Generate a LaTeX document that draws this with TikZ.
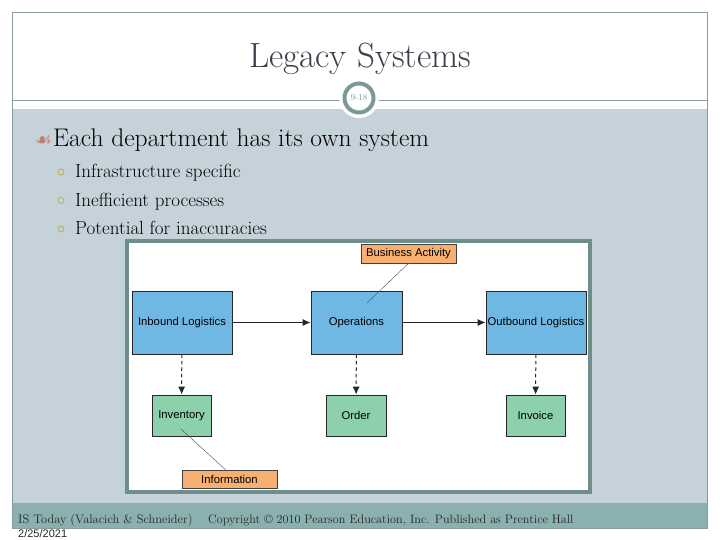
\documentclass[tikz,border=0pt]{standalone}
\usepackage{fontspec}
\usepackage{xcolor}
\usetikzlibrary{positioning, arrows.meta, calc}
\newfontfamily\diagfont{Liberation Sans}
\newfontfamily\symfont{DejaVu Sans}
\definecolor{slideframe}{HTML}{8C9C9C}
\definecolor{bodygrey}{HTML}{C6D2D9}
\definecolor{footteal}{HTML}{8BB0B0}
\definecolor{ringteal}{HTML}{7A9A98}
\definecolor{picteal}{HTML}{6E8E8C}
\definecolor{titlegrey}{HTML}{3E3E4C}
\definecolor{procblue}{HTML}{70B8E4}
\definecolor{datagreen}{HTML}{8CD0AC}
\definecolor{noteorange}{HTML}{F8B070}
\definecolor{bulletred}{HTML}{C08070}
\definecolor{bulletolive}{HTML}{B8B464}

\tikzset{
  procbox/.style={fill=procblue, draw=black!85, line width=0.8pt, inner sep=1pt,
                  minimum width=100pt, minimum height=63pt, font=\diagfont\fontsize{11.3}{13}\selectfont},
  databox/.style={fill=datagreen, draw=black!85, line width=0.8pt, inner sep=1pt,
                  minimum width=59pt, minimum height=41pt, font=\diagfont\fontsize{11.3}{13}\selectfont},
  notebox/.style={fill=noteorange, draw=black!75, line width=0.6pt, inner sep=1pt,
                  minimum width=95pt, minimum height=19pt, font=\diagfont\fontsize{11.3}{13}\selectfont},
  flow/.style={-{Latex[length=8pt,width=7pt]}, line width=1pt, black!85},
  feed/.style={flow, dash pattern=on 3.5pt off 3pt},
  callout/.style={black!70, line width=0.4pt},
}

\begin{document}
\begin{tikzpicture}[x=1pt, y=-1pt]
  \useasboundingbox (0,0) rectangle (720,540);
  \fill[white] (0,0) rectangle (720,540);

  % slide background
  \draw[slideframe, line width=0.8pt] (12,100) -- (707,100);
  \fill[bodygrey] (12,109) rectangle (707,503);
  \fill[footteal] (12,503) rectangle (707,528);
  \draw[slideframe, line width=0.8pt] (12,12) rectangle (707,528);

  % title and slide number
  \node[anchor=base, text=titlegrey, font=\fontsize{35}{40}\selectfont] (title) at (360,68) {Legacy Systems};
  \fill[white] (359,98) circle (20);
  \node[circle, draw=ringteal, line width=4pt, fill=white, minimum size=29pt, inner sep=0pt,
        text=ringteal, font=\fontsize{9}{10}\selectfont] (slidenum) at (359,98) {9-18};

  % bullet points
  \node[anchor=base west, inner sep=0pt, font=\fontsize{25.5}{30}\selectfont] (point) at (53,147)
    {Each department has its own system};
  \node[anchor=base east, inner sep=1pt, text=bulletred, font=\symfont\fontsize{19}{19}\selectfont]
    (pointmark) at (point.base west) {☙};
  \foreach \txt [count=\i] in {Infrastructure specific, Inefficient processes, Potential for inaccuracies}{
    \node[anchor=base west, inner sep=0pt, font=\fontsize{19}{23}\selectfont] (sub\i) at (75,{178+28.5*(\i-1)}) {\txt};
    \node[circle, draw=bulletolive, line width=0.9pt, minimum size=6pt, inner sep=0pt] (submark\i)
      at ($(sub\i.base west)+(-14,-6)$) {};
  }

  % value chain figure
  \draw[picteal, line width=4pt, fill=white] (127,241) rectangle (590,492);

  \node[procbox] (inbound) at (182,322.5) {Inbound Logistics};
  \node[procbox, minimum width=91pt] (ops) at (356.5,322.5) {Operations};
  \node[procbox] (outbound) at (536,322.5) {Outbound Logistics};

  \node[databox] (inventory) at (181.5,415.5) {Inventory};
  \node[databox, minimum width=60pt] (order) at (356,415.5) {Order};
  \node[databox] (invoice) at (535.5,415.5) {Invoice};

  \node[notebox] (bizact) at (408.5,253.5) {Business Activity};
  \node[notebox, minimum height=18pt] (info) at (229.5,479) {Information};

  \draw[flow] (inbound) -- (ops);
  \draw[flow] (ops) -- (outbound);
  \draw[feed] (inbound) -- (inventory);
  \draw[feed] (ops) -- (order);
  \draw[feed] (outbound) -- (invoice);

  \coordinate (bizpin) at (367,303);
  \coordinate (infopin) at (181,429);
  \draw[callout] (bizact.south) -- (bizpin);
  \draw[callout] (infopin) -- ($(info.north)+(-4,0)$);

  % footer
  \node[anchor=base west, inner sep=0pt, text=black!85, font=\fontsize{12.4}{14}\selectfont] (source) at (18,523)
    {IS Today (Valacich \& Schneider)};
  \node[anchor=base west, inner sep=0pt, text=black!85, font=\fontsize{12.2}{14}\selectfont] (copyright) at (208,523)
    {Copyright © 2010 Pearson Education, Inc. Published as Prentice Hall};
  \node[anchor=base west, inner sep=0pt, text=black!85, font=\diagfont\fontsize{11}{13}\selectfont] (date) at (18,537)
    {2/25/2021};
\end{tikzpicture}
\end{document}
